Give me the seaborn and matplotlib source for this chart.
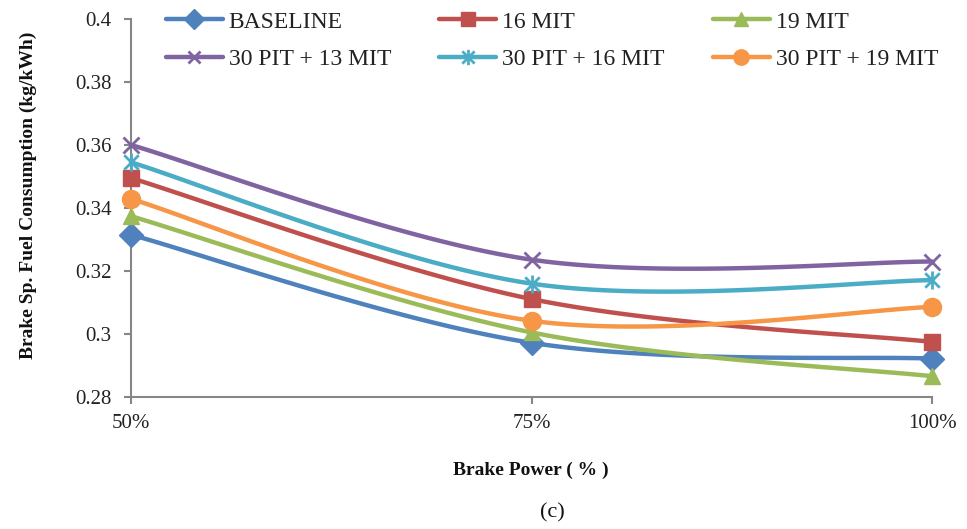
import numpy as np
import pandas as pd
import matplotlib
matplotlib.use("Agg")
import matplotlib.pyplot as plt
import seaborn as sns
from matplotlib.lines import Line2D
from matplotlib.path import Path

# ---------------- data ----------------
categories = ["50%", "75%", "100%"]
series_names = ["BASELINE", "16 MIT", "19 MIT",
                "30 PIT + 13 MIT", "30 PIT + 16 MIT", "30 PIT + 19 MIT"]
baseline = [0.3315, 0.2972, 0.2922]
mit16 = [0.3495, 0.3111, 0.2975]
mit19 = [0.3374, 0.3005, 0.2866]
pit30_mit13 = [0.3600, 0.3236, 0.3230]
pit30_mit16 = [0.3545, 0.3160, 0.3171]
pit30_mit19 = [0.3429, 0.3042, 0.3086]
y_ticks = [0.28, 0.30, 0.32, 0.34, 0.36, 0.38, 0.40]
y_tick_labels = ["0.28", "0.3", "0.32", "0.34", "0.36", "0.38", "0.4"]

series_values = [baseline, mit16, mit19, pit30_mit13, pit30_mit16, pit30_mit19]
colors = ["#4F81BD", "#C0504D", "#9BBB59", "#8064A2", "#4BACC6", "#F79646"]

# asterisk marker (x + vertical bar), Excel style
ast_verts = [(0, -1), (0, 1), (-0.8, -0.8), (0.8, 0.8), (-0.8, 0.8), (0.8, -0.8)]
ast_codes = [Path.MOVETO, Path.LINETO] * 3
asterisk = Path(ast_verts, ast_codes)

markers = ["D", "s", "^", "x", asterisk, "o"]
msizes = [12, 12, 12, 11, 13, 13]

# long-form table
rows = []
for name, vals in zip(series_names, series_values):
    for i, (c, v) in enumerate(zip(categories, vals)):
        rows.append({"series": name, "pos": i, "category": c, "value": v})
df = pd.DataFrame(rows)


def excel_smooth(xs, ys, n=60):
    """Excel-like smoothed line (cubic Bezier, Catmull-Rom control points)."""
    xs = np.asarray(xs, float)
    ys = np.asarray(ys, float)
    px = np.concatenate([[xs[0]], xs, [xs[-1]]])
    py = np.concatenate([[ys[0]], ys, [ys[-1]]])
    outx, outy = [], []
    t = np.linspace(0, 1, n)
    for k in range(1, len(px) - 2):
        p0x, p1x, p2x, p3x = px[k - 1], px[k], px[k + 1], px[k + 2]
        p0y, p1y, p2y, p3y = py[k - 1], py[k], py[k + 1], py[k + 2]
        c1x = p1x + (p2x - p0x) / 6
        c1y = p1y + (p2y - p0y) / 6
        c2x = p2x - (p3x - p1x) / 6
        c2y = p2y - (p3y - p1y) / 6
        bx = (1 - t) ** 3 * p1x + 3 * (1 - t) ** 2 * t * c1x + 3 * (1 - t) * t ** 2 * c2x + t ** 3 * p2x
        by = (1 - t) ** 3 * p1y + 3 * (1 - t) ** 2 * t * c1y + 3 * (1 - t) * t ** 2 * c2y + t ** 3 * p2y
        outx.append(bx)
        outy.append(by)
    return np.concatenate(outx), np.concatenate(outy)


# ---------------- style ----------------
sns.set_theme(style="white")
plt.rcParams["font.family"] = ["Liberation Serif", "DejaVu Serif"]

fig = plt.figure(figsize=(9.67, 5.29), dpi=100)
ax = fig.add_axes([131 / 967, 1 - 397 / 529, 801 / 967, 378 / 529])

axis_gray = "#868686"
lw = 3.2

for name, col, mk, ms in zip(series_names, colors, markers, msizes):
    sub = df[df["series"] == name]
    sx, sy = excel_smooth(sub["pos"], sub["value"])
    smooth_df = pd.DataFrame({"x": sx, "y": sy})
    sns.lineplot(data=smooth_df, x="x", y="y", ax=ax, color=col, lw=lw,
                 sort=False, estimator=None, clip_on=False, zorder=3)
    filled = mk not in ("x",) and not isinstance(mk, Path)
    ax.plot(sub["pos"], sub["value"], linestyle="none", marker=mk, markersize=ms,
            color=col, markerfacecolor=col if filled else "none",
            markeredgecolor=col, markeredgewidth=1.0 if filled else 2.0,
            clip_on=False, zorder=4)

ax.set_xlim(0, 2)
ax.set_ylim(0.28, 0.40)
ax.set_xticks(range(len(categories)))
ax.set_xticklabels(categories)
ax.set_yticks(y_ticks)
ax.set_yticklabels(y_tick_labels)
ax.set_xlabel("")
ax.set_ylabel("")

for s in ["top", "right"]:
    ax.spines[s].set_visible(False)
for s in ["left", "bottom"]:
    ax.spines[s].set_color(axis_gray)
    ax.spines[s].set_linewidth(1.5)

ax.tick_params(axis="both", which="major", direction="out", length=5, width=1.5,
               color=axis_gray, labelsize=15, labelcolor="#222222")
ax.tick_params(axis="y", pad=9)
ax.tick_params(axis="x", pad=7, bottom=True)
ax.tick_params(axis="y", left=True)

# legend (row-wise order: matplotlib fills column by column)
handles = []
for name, col, mk, ms in zip(series_names, colors, markers, msizes):
    filled = mk not in ("x",) and not isinstance(mk, Path)
    handles.append(Line2D([0], [0], color=col, lw=lw, marker=mk, markersize=ms * 0.85,
                          markerfacecolor=col if filled else "none",
                          markeredgecolor=col, markeredgewidth=1.0 if filled else 2.0))
order = [0, 3, 1, 4, 2, 5]
leg = fig.legend([handles[i] for i in order], [series_names[i] for i in order],
                 ncol=3, loc="upper left",
                 bbox_to_anchor=(166 / 967, 1 - 11 / 529), frameon=False,
                 fontsize=17, handlelength=2.4, handletextpad=0.25,
                 columnspacing=2.05, labelspacing=0.68, borderpad=0,
                 borderaxespad=0)
for t in leg.get_texts():
    t.set_color("#222222")

fig.text(28 / 967, 1 - 195 / 529, "Brake Sp. Fuel Consumption (kg/kWh)", rotation=90,
         ha="center", va="center", fontsize=14, fontweight="bold", color="#111111")
fig.text(531 / 967, 1 - 470 / 529, "Brake Power ( % )", ha="center", va="center",
         fontsize=14, fontweight="bold", color="#111111")
fig.text(552 / 967, 1 - 513 / 529, "(c)", ha="center", va="center",
         fontsize=16, color="#111111")

fig.savefig("out.png", dpi=100)
